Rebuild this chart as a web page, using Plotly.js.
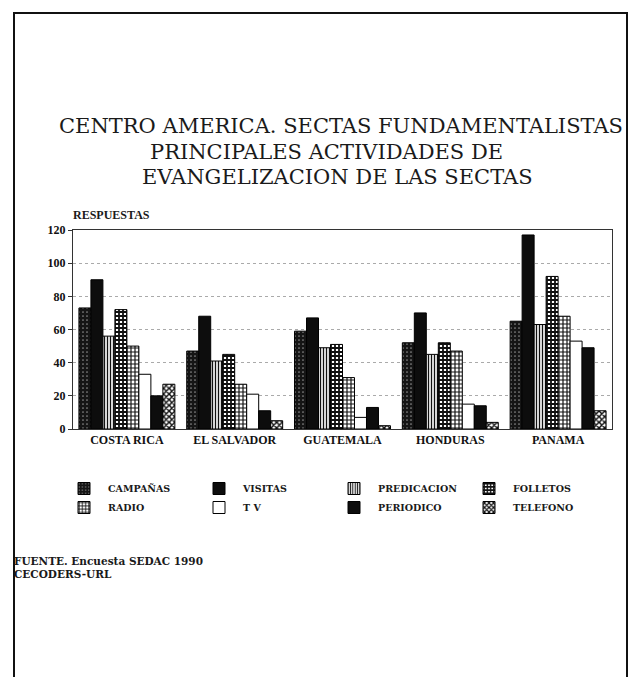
<!DOCTYPE html>
<html>
<head>
<meta charset="utf-8">
<script src="https://cdn.plot.ly/plotly-3.0.1.min.js"></script>
<style>html,body{margin:0;padding:0;background:#fff;}#chart{width:637px;height:677px;}</style>
</head>
<body>
<div id="chart"></div>
<script>
// ---- data ----
const countries = ["COSTA RICA", "EL SALVADOR", "GUATEMALA", "HONDURAS", "PANAMA"];
const seriesNames = ["CAMPAÑAS", "VISITAS", "PREDICACION", "FOLLETOS", "RADIO", "T V", "PERIODICO", "TELEFONO"];
const campanas    = [73, 47, 59, 52, 65];
const visitas     = [90, 68, 67, 70, 117];
const predicacion = [56, 41, 49, 45, 63];
const folletos    = [72, 45, 51, 52, 92];
const radio       = [50, 27, 31, 47, 68];
const tv          = [33, 21, 7, 15, 53];
const periodico   = [20, 11, 13, 14, 49];
const telefono    = [27, 5, 2, 4, 11];
const yTicks      = [0, 20, 40, 60, 80, 100, 120];

const values = [campanas, visitas, predicacion, folletos, radio, tv, periodico, telefono];

// ---- styles ----
const styles = [
  {color: "#1a1a1a", pattern: {shape: ".", fgcolor: "#8a8a8a", bgcolor: "#151515", size: 4, solidity: 0.15}},
  {color: "#0d0d0d", pattern: {shape: ""}},
  {color: "#ffffff", pattern: {shape: "|", fgcolor: "#111", bgcolor: "#ffffff", size: 3, solidity: 0.45}},
  {color: "#222", pattern: {shape: "+", fgcolor: "#111", bgcolor: "#ffffff", size: 4, solidity: 0.7}},
  {color: "#444", pattern: {shape: "+", fgcolor: "#111", bgcolor: "#ffffff", size: 4, solidity: 0.5}},
  {color: "#ffffff", pattern: {shape: ""}},
  {color: "#0d0d0d", pattern: {shape: ""}},
  {color: "#555", pattern: {shape: "x", fgcolor: "#111", bgcolor: "#ffffff", size: 4, solidity: 0.6}}
];

const traces = seriesNames.map((n, i) => ({
  type: "bar",
  name: n,
  x: countries,
  y: values[i],
  marker: {color: styles[i].color, pattern: styles[i].pattern, line: {color: "#000", width: 1}}
}));

// plot area in pixels
const L = 73, R = 612, T = 230, B = 429;
const px = x => (x - L) / (R - L);
const py = y => (B - y) / (B - T);
const serif = "DejaVu Serif, Liberation Serif, serif";
const serif2 = "Liberation Serif, DejaVu Serif, serif";

const annotations = [
  {text: "CENTRO AMERICA. SECTAS FUNDAMENTALISTAS", x: px(341), y: py(126)},
  {text: "PRINCIPALES ACTIVIDADES DE", x: px(326), y: py(152)},
  {text: "EVANGELIZACION DE LAS SECTAS", x: px(337), y: py(177)}
].map(a => ({
  text: a.text, xref: "paper", yref: "paper", x: a.x, y: a.y, xanchor: "center", yanchor: "middle",
  showarrow: false, font: {family: serif, size: 21, color: "#1a1a1a"}
}));

annotations.push(
  {text: "<b>RESPUESTAS</b>", xref: "paper", yref: "paper", x: px(71), y: py(215), xanchor: "left", yanchor: "middle",
   showarrow: false, font: {family: serif2, size: 12, color: "#1a1a1a"}},
  {text: "<b>FUENTE. Encuesta SEDAC 1990</b>", xref: "paper", yref: "paper", x: px(12), y: py(561), xanchor: "left", yanchor: "middle",
   showarrow: false, font: {family: serif, size: 10.5, color: "#1a1a1a"}},
  {text: "<b>CECODERS-URL</b>", xref: "paper", yref: "paper", x: px(12), y: py(574), xanchor: "left", yanchor: "middle",
   showarrow: false, font: {family: serif, size: 10.5, color: "#1a1a1a"}}
);

const shapes = [
  {type: "path", xref: "paper", yref: "paper",
   path: `M ${px(14)} ${py(677)} L ${px(14)} ${py(13)} L ${px(627)} ${py(13)} L ${px(627)} ${py(677)}`,
   line: {color: "#111", width: 2}}
];

const layout = {
  width: 637, height: 677,
  margin: {l: L, r: 637 - R, t: T, b: 677 - B},
  paper_bgcolor: "#fff", plot_bgcolor: "#fff",
  barmode: "group", bargap: 0.11, bargroupgap: 0,
  showlegend: true,
  legend: {
    orientation: "h", x: px(60), y: py(474), xanchor: "left", yanchor: "top",
    entrywidth: 82, entrywidthmode: "pixels", traceorder: "normal",
    font: {family: serif, size: 9.5, color: "#1a1a1a", weight: "bold"},
    itemwidth: 38, tracegroupgap: 0
  },
  xaxis: {
    showline: true, linecolor: "#333", linewidth: 1, mirror: true, ticks: "",
    tickfont: {family: serif2, size: 12, color: "#111", weight: "bold"},
    showgrid: false
  },
  yaxis: {
    range: [0, 120], tickvals: yTicks, ticktext: yTicks.map(String),
    showline: true, linecolor: "#333", linewidth: 1, mirror: true,
    ticks: "outside", ticklen: 4, tickcolor: "#333",
    tickfont: {family: serif2, size: 12, color: "#111", weight: "bold"},
    showgrid: true, gridcolor: "#aaa", griddash: "dot", gridwidth: 1,
    zeroline: false
  },
  annotations: annotations,
  shapes: shapes
};

Plotly.newPlot("chart", traces, layout, {displayModeBar: false, staticPlot: true});
</script>
</body>
</html>
